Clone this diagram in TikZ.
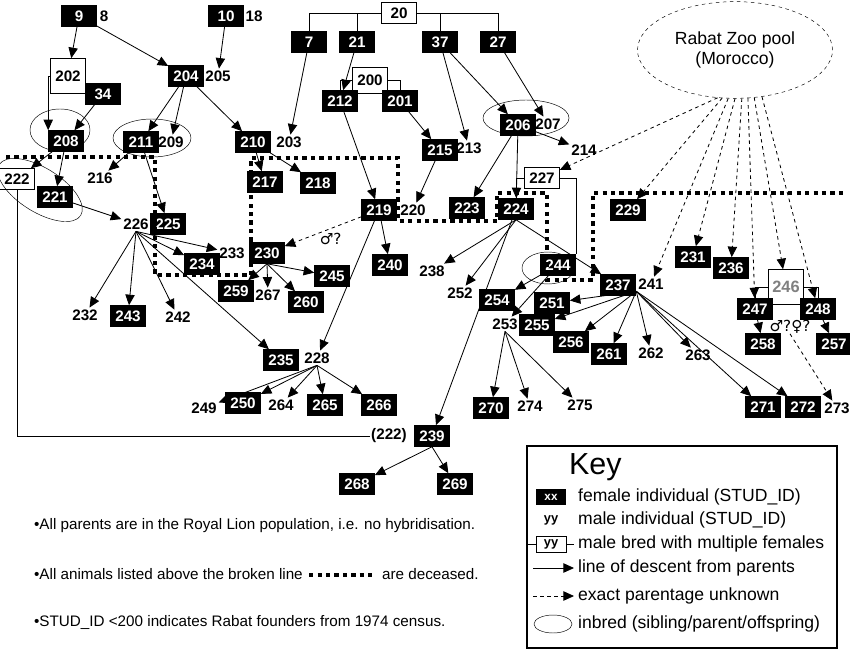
\documentclass[tikz,border=0pt]{standalone}
\usepackage{fontspec}
\setmainfont{Liberation Sans}
\newfontfamily\symfont{DejaVu Sans}
\usetikzlibrary{arrows.meta,shapes.geometric}

\tikzset{
  fem/.style={fill=black,text=white,font=\bfseries\fontsize{13}{14}\selectfont,inner sep=1.5pt,minimum width=30pt,minimum height=18pt},
  mal/.style={font=\bfseries\fontsize{13}{14}\selectfont,inner sep=1.5pt},
  multi/.style={draw,fill=white,font=\bfseries\fontsize{13}{14}\selectfont,inner sep=1.5pt,minimum width=30pt,minimum height=18pt},
  desc/.style={-{Triangle[length=9pt,width=8pt]},line width=0.7pt},
  unk/.style={desc,dashed},
  dead/.style={line width=3.6pt,dash pattern=on 3.6pt off 3.6pt},
  keytext/.style={font=\fontsize{15}{16}\selectfont,anchor=west},
  notetext/.style={font=\fontsize{13}{14}\selectfont,anchor=west},
}

\begin{document}
\begin{tikzpicture}[x=0.03cm,y=-0.03cm]
	\useasboundingbox (0,0) rectangle (850,656);
	
	% founders
	\node[fem] at (79,16) (n9) {9};
	\node[mal] at (104,16) (n8) {8};
	\node[fem] at (226,16) (n10) {10};
	\node[mal] at (254,16) (n18) {18};
	\node[multi] at (399,13) (n20) {20};
	\node[fem] at (309,42) (n7) {7};
	\node[fem] at (357,42) (n21) {21};
	\node[fem] at (440,42) (n37) {37};
	\node[fem] at (498,42) (n27) {27};
	
	% first generation
	\node[multi,minimum height=30pt] at (68,76) (n202) {202};
	\node[fem] at (103,94) (n34) {34};
	\node[fem] at (186,76) (n204) {204};
	\node[mal] at (218,76) (n205) {205};
	\node[multi,minimum height=22pt] at (370,80) (n200) {200};
	\node[fem] at (340,101) (n212) {212};
	\node[fem] at (400,101) (n201) {201};
	\node[fem] at (66,141) (n208) {208};
	\node[fem] at (141,142) (n211) {211};
	\node[mal] at (171,142) (n209) {209};
	\node[fem] at (253,142) (n210) {210};
	\node[mal] at (289,142) (n203) {203};
	\node[fem] at (518,125) (n206) {206};
	\node[mal] at (548,124) (n207) {207};
	\node[fem] at (440,150) (n215) {215};
	\node[mal] at (469,148) (n213) {213};
	\node[mal] at (584,150) (n214) {214};
	
	% second generation
	\node[multi] at (17,179) (n222) {222};
	\node[fem] at (55,197) (n221) {221};
	\node[mal] at (100,178) (n216) {216};
	\node[fem] at (265,182) (n217) {217};
	\node[fem] at (318,183) (n218) {218};
	\node[fem] at (379,210) (n219) {219};
	\node[mal] at (413,210) (n220) {220};
	\node[fem] at (467,208) (n223) {223};
	\node[fem] at (516,209) (n224) {224};
	\node[multi] at (542,178) (n227) {227};
	\node[fem] at (628,210) (n229) {229};
	\node[mal] at (136,224) (n226) {226};
	\node[fem] at (168,224) (n225) {225};
	\node[draw,dashed,ellipse,minimum width=5.85cm,minimum height=2.9cm,align=center,font=\fontsize{15}{17}\selectfont] at (735,50) (pool) {Rabat Zoo pool\\(Morocco)};
	
	% third generation
	\node[fem] at (267,253) (n230) {230};
	\node[mal] at (232,253) (n233) {233};
	\node[fem] at (202,264) (n234) {234};
	\node[fem] at (390,265) (n240) {240};
	\node[mal] at (432,271) (n238) {238};
	\node[fem] at (693,257) (n231) {231};
	\node[fem] at (731,268) (n236) {236};
	\node[fem] at (558,265) (n244) {244};
	\node[mal] at (460,293) (n252) {252};
	\node[fem] at (497,300) (n254) {254};
	\node[fem] at (552,303) (n251) {251};
	\node[mal] at (505,324) (n253) {253};
	\node[fem] at (537,325) (n255) {255};
	\node[fem] at (618,285) (n237) {237};
	\node[mal] at (651,284) (n241) {241};
	\node[multi,minimum width=30pt,minimum height=30pt,text=gray,font=\bfseries\fontsize{14}{15}\selectfont] at (786,287) (n246) {246};
	\node[fem] at (755,309) (n247) {247};
	\node[fem] at (818,309) (n248) {248};
	\node[fem] at (763,344) (n258) {258};
	\node[fem] at (834,344) (n257) {257};
	\node[fem] at (236,291) (n259) {259};
	\node[mal] at (268,295) (n267) {267};
	\node[fem] at (306,302) (n260) {260};
	\node[fem] at (332,276) (n245) {245};
	\node[mal] at (85,315) (n232) {232};
	\node[fem] at (128,316) (n243) {243};
	\node[mal] at (178,317) (n242) {242};
	\node[fem] at (571,342) (n256) {256};
	\node[fem] at (609,354) (n261) {261};
	\node[mal] at (651,353) (n262) {262};
	\node[mal] at (698,355) (n263) {263};
	\node[fem] at (281,360) (n235) {235};
	\node[mal] at (317,358) (n228) {228};
	\node[mal] at (204,408) (n249) {249};
	\node[fem] at (243,403) (n250) {250};
	\node[mal] at (281,405) (n264) {264};
	\node[fem] at (325,405) (n265) {265};
	\node[fem] at (379,405) (n266) {266};
	\node[fem] at (491,408) (n270) {270};
	\node[mal] at (530,406) (n274) {274};
	\node[mal] at (580,405) (n275) {275};
	\node[fem] at (763,407) (n271) {271};
	\node[fem] at (803,407) (n272) {272};
	\node[mal] at (837,408) (n273) {273};
	\node[font=\bfseries\fontsize{13}{14}\selectfont,inner sep=1pt] at (389,436) (r222) {(222)};
	\node[fem] at (432,436) (n239) {239};
	\node[fem] at (357,484) (n268) {268};
	\node[fem] at (455,484) (n269) {269};
	
	% inbreeding rings
	\draw (60,130) ellipse (30 and 21);
	\draw (152,138) ellipse (39 and 19);
	\draw (526,118) ellipse (43 and 18);
	\draw (548,268) ellipse (26 and 16);
	\draw[rotate around={-32:(40,190)}] (40,190) ellipse (48 and 22);
	
	% deceased boundary
	\draw[dead] (6,157) -- (155,157) -- (155,275) -- (251,275) -- (251,158) -- (398,158) -- (398,221) -- (497,221) -- (497,193) -- (547,193) -- (547,280) -- (593,280) -- (593,193) -- (843,193);
	
	% multiple mate brackets
	\draw (n20.west) -| (n7.north);
	\draw (n20.west) -| (n21.north);
	\draw (n20.east) -| (n37.north);
	\draw (n20.east) -| (n27.north);
	\draw (n200.west) -| (n212.north);
	\draw (n200.east) -| (n201.north);
	\draw (n227.west) -| (n224.north);
	\draw (n227.east) -| (n244.north east);
	\draw (n246.west) -| (n247.north);
	\draw (n246.east) -| (n248.north);
	\draw (n222.south) |- (r222.west);
	
	% lines of descent
	\draw[desc] (n9) -- (n202);
	\draw[desc] (n9) -- (n204);
	\draw[desc] (n10) -- (n205);
	\draw[desc] (n202.west) -| (n208.north west);
	\draw[desc] (n34) -- (n208);
	\draw[desc] (n204) -- (n211);
	\draw[desc] (n204) -- (n209);
	\draw[desc] (n204) -- (n210);
	\draw[desc] (n7) -- (n203);
	\draw[desc] (n21) -- (n212);
	\draw[desc] (n212) -- (n219);
	\draw[desc] (n201) -- (n215);
	\draw[desc] (n215) -- (n220);
	\draw[desc] (n37) -- (n213);
	\draw[desc] (n37) -- (n206);
	\draw[desc] (n27) -- (n207);
	\draw[desc] (n208) -- (n222);
	\draw[desc] (n208) -- (n221);
	\draw[desc] (n211) -- (n216);
	\draw[desc] (n211) -- (n225);
	\draw[desc] (n210) -- (n217);
	\draw[desc] (n210) -- (n218);
	\draw[desc] (n221) -- (n226);
	\draw[desc] (n206) -- (n214);
	\draw[desc] (n206) -- (n223);
	\draw[desc] (n206) -- (n224);
	\draw[desc] (n219) -- (n240);
	\draw[desc] (n219) -- (n228);
	\draw[desc] (n224) -- (n239);
	\foreach \c in {232,243,242,234,233,235}
		\draw[desc] (n226.south) -- (n\c);
	\foreach \c in {259,267,260,245}
		\draw[desc] (n230.south) -- (n\c);
	\foreach \c in {238,252,237}
		\draw[desc] (n224.south) -- (n\c);
	\draw[desc] (n244) -- (n254);
	\draw[desc] (n244) -- (n253);
	\foreach \c in {270,274,275}
		\draw[desc] (n253.south) -- (n\c);
	\foreach \c in {251,255,256,261,262,263,271,272}
		\draw[desc] (n241.south west) -- (n\c);
	\foreach \c in {249,250,264,265,266}
		\draw[desc] (n228.south) -- (n\c);
	\draw[desc] (n239.south) -- (n268);
	\draw[desc] (n239.south) -- (n269);
	\draw[desc] (n247) -- (n258);
	\draw[desc] (n248) -- (n257);
	
	% parentage unknown
	\draw[unk] (n219) -- (n230) node[pos=0.4,below,font=\symfont\fontsize{13}{14}\selectfont] {♂?};
	\node[font=\symfont\fontsize{13}{14}\selectfont,inner sep=0pt] at (790,327) (q246) {♂?♀?};
	\draw[unk] (q246.south) -- (n273);
	\foreach \c/\p in {227/250,229/255,241/262,231/270,236/278,247/285,246/292,248/300}
		\draw[unk] (pool.\p) -- (n\c);
	
	% key
	\draw[line width=1.8pt] (527,446) rectangle (837,648);
	\node[font=\fontsize{26}{28}\selectfont,anchor=west] at (565,467) (keyhead) {Key};
	\node[fem,minimum width=26pt,minimum height=14pt,font=\bfseries\fontsize{10}{11}\selectfont] at (551,497) (kfem) {xx};
	\node[keytext] at (574,497) (kfemt) {female individual (STUD\_ID)};
	\node[mal,font=\bfseries\fontsize{11}{12}\selectfont] at (551,520) (kmal) {yy};
	\node[keytext] at (574,520) (kmalt) {male individual (STUD\_ID)};
	\node[multi,minimum width=26pt,minimum height=14pt,font=\bfseries\fontsize{11}{12}\selectfont] at (551,544) (kmul) {yy};
	\node[keytext] at (574,544) (kmult) {male bred with multiple females};
	\draw (kmul.west) -- ++(-10,0);
	\draw (kmul.east) -- (kmult.west);
	\coordinate (kd1) at (533,568);
	\node[keytext] at (574,568) (kdesct) {line of descent from parents};
	\draw[desc] (kd1) -- (kdesct.west);
	\coordinate (ku1) at (533,596);
	\node[keytext] at (574,596) (kunkt) {exact parentage unknown};
	\draw[unk] (ku1) -- (kunkt.west);
	\draw (553,624) ellipse (19 and 9);
	\node[keytext] at (574,624) (kinbt) {inbred (sibling/parent/offspring)};
	
	% notes
	\node[notetext] at (30,526) (note1) {•All parents are in the Royal Lion population, i.e. no hybridisation.};
	\node[notetext] at (30,574) (note2) {•All animals listed above the broken line \tikz[baseline=-0.6ex]\draw[dead] (0cm,0cm) -- (2cm,0cm); are deceased.};
	\node[notetext] at (30,622) (note3) {•STUD\_ID <200 indicates Rabat founders from 1974 census.};
\end{tikzpicture}
\end{document}
